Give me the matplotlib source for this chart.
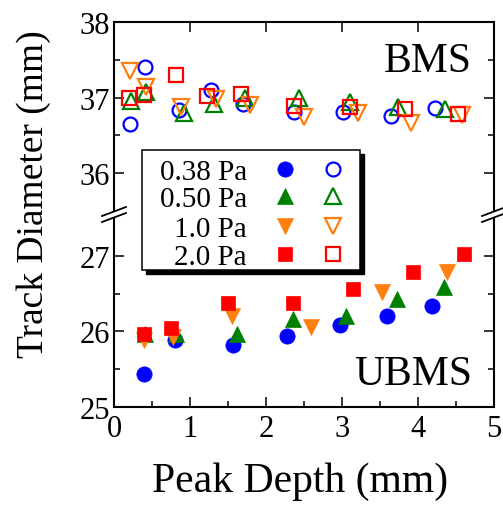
import numpy as np
import matplotlib.pyplot as plt
from matplotlib.lines import Line2D
from matplotlib.patches import Rectangle, Polygon
from matplotlib.ticker import FixedLocator

plt.rcParams['font.family'] = ['Liberation Serif', 'DejaVu Serif']

W, H = 503, 506

labels = ["0.38 Pa", "0.50 Pa", "1.0 Pa", "2.0 Pa"]
colors = ["#0000ff", "#008000", "#ff7f0e", "#ff0000"]
markers = ["o", "^", "v", "s"]
msizes = [11, 12, 12, 10.5]

# balanced magnetron (open symbols)
bms_x = [
    [0.21, 0.41, 0.85, 1.28, 1.70, 2.37, 3.01, 3.65, 4.22],
    [0.22, 0.42, 0.92, 1.32, 1.73, 2.44, 3.11, 3.74, 4.35],
    [0.21, 0.42, 0.88, 1.34, 1.79, 2.50, 3.21, 3.91, 4.58],
    [0.20, 0.39, 0.82, 1.23, 1.67, 2.37, 3.10, 3.83, 4.52],
]
bms_y = [
    [36.65, 37.40, 36.84, 37.10, 36.92, 36.81, 36.81, 36.76, 36.86],
    [36.96, 37.07, 36.79, 36.92, 37.00, 36.99, 36.94, 36.88, 36.85],
    [37.35, 37.14, 36.87, 36.98, 36.90, 36.74, 36.79, 36.67, 36.77],
    [36.99, 37.04, 37.30, 37.02, 37.05, 36.89, 36.88, 36.85, 36.78],
]

# unbalanced magnetron (filled symbols)
ubms_x = [
    [0.40, 0.80, 1.56, 2.28, 2.98, 3.59, 4.18],
    [0.41, 0.82, 1.62, 2.36, 3.05, 3.72, 4.34],
    [0.39, 0.77, 1.55, 2.59, 3.52, 4.38],
    [0.39, 0.75, 1.50, 2.35, 3.14, 3.94, 4.61],
]
ubms_y = [
    [25.43, 25.88, 25.82, 25.94, 26.08, 26.21, 26.33],
    [25.97, 25.97, 25.97, 26.16, 26.21, 26.43, 26.59],
    [25.88, 25.93, 26.21, 26.06, 26.52, 26.78],
    [25.97, 26.05, 26.37, 26.37, 26.56, 26.78, 27.03],
]


def fx(px):
    return px / W


def fy(py):
    return 1 - py / H


fig = plt.figure(figsize=(W / 100, H / 100), dpi=100)
x0, x1 = 114, 494
y_top, y_brk, y_bot = 23, 213, 408
ax_t = fig.add_axes([fx(x0), fy(y_brk), fx(x1) - fx(x0), fy(y_top) - fy(y_brk)])
ax_b = fig.add_axes([fx(x0), fy(y_bot), fx(x1) - fx(x0), fy(y_brk) - fy(y_bot)])

for i in range(4):
    ax_t.plot(bms_x[i], bms_y[i], ls="none", marker=markers[i], ms=msizes[i] - 1,
              mfc="none", mec=colors[i], mew=1.6, clip_on=False)
    ax_b.plot(ubms_x[i], ubms_y[i], ls="none", marker=markers[i], ms=msizes[i],
              mfc=colors[i], mec=colors[i], mew=0.5, clip_on=False)

ax_t.set_ylim(38 - (y_brk - y_top) / 75.6, 38)
ax_b.set_ylim(25, 25 + (y_bot - y_brk) / 75.6)
for ax in (ax_t, ax_b):
    ax.set_xlim(0, 5)
    for s in ax.spines.values():
        s.set_linewidth(1.5)
    ax.tick_params(which="both", direction="in", right=True, width=1.1,
                   labelsize=22, pad=3)
    ax.tick_params(which="major", length=7)
    ax.tick_params(which="minor", length=4)

ax_t.spines["bottom"].set_visible(False)
ax_b.spines["top"].set_visible(False)

ax_t.yaxis.set_major_locator(FixedLocator([36, 37, 38]))
ax_t.yaxis.set_minor_locator(FixedLocator([36.5, 37.5]))
ax_t.xaxis.set_major_locator(FixedLocator([1, 2, 3, 4]))
ax_t.tick_params(axis="x", which="both", bottom=False, top=True, labelbottom=False)
ax_t.xaxis.set_minor_locator(FixedLocator([]))

ax_b.yaxis.set_major_locator(FixedLocator([25, 26, 27]))
ax_b.yaxis.set_minor_locator(FixedLocator([25.5, 26.5]))
ax_b.xaxis.set_major_locator(FixedLocator([0, 1, 2, 3, 4, 5]))
ax_b.xaxis.set_minor_locator(FixedLocator([0.5, 1.5, 2.5, 3.5, 4.5]))
ax_b.tick_params(axis="x", which="both", top=False, pad=5)

ax_t.text(0.942, 0.742, "BMS", transform=ax_t.transAxes, ha="right",
          va="baseline", fontsize=30)
ax_b.text(0.942, 0.118, "UBMS", transform=ax_b.transAxes, ha="right",
          va="baseline", fontsize=30)

fig.text(fx(300), fy(492), "Peak Depth (mm)", ha="center", va="baseline",
         fontsize=30)
fig.text(fx(34), fy(194), "Track Diameter (mm)", ha="center", va="center",
         rotation=90, fontsize=27)

# axis break marks on both sides
for xs in (x0, x1):
    yc, dx, dy, gap = 215.5, 12, 4.5, 3
    poly = Polygon([(fx(xs - dx), fy(yc + dy - gap)), (fx(xs + dx), fy(yc - dy - gap)),
                    (fx(xs + dx), fy(yc - dy + gap)), (fx(xs - dx), fy(yc + dy + gap))],
                   closed=True, transform=fig.transFigure, fc="white", ec="none",
                   zorder=4)
    fig.add_artist(poly)
    for g in (-gap, gap):
        fig.add_artist(Line2D([fx(xs - dx), fx(xs + dx)],
                              [fy(yc + dy + g), fy(yc - dy + g)],
                              transform=fig.transFigure, color="black", lw=1.3,
                              zorder=5))

# legend box with drop shadow
bx0, by0, bx1, by1 = 142, 151, 360, 271
fig.add_artist(Rectangle((fx(bx0 + 4), fy(by1 + 4)), fx(bx1 - bx0), fy(by0) - fy(by1),
                         transform=fig.transFigure, fc="black", ec="black",
                         lw=1.0, zorder=6))
fig.add_artist(Rectangle((fx(bx0), fy(by1)), fx(bx1 - bx0), fy(by0) - fy(by1),
                         transform=fig.transFigure, fc="white", ec="black",
                         lw=1.1, zorder=7))
rows = [170, 197, 227, 255]
for i in range(4):
    fig.text(fx(247), fy(rows[i]), labels[i], ha="right", va="center_baseline",
             fontsize=21, zorder=8)
    fig.add_artist(Line2D([fx(285)], [fy(rows[i])], transform=fig.transFigure,
                          ls="none", marker=markers[i], ms=msizes[i],
                          mfc=colors[i], mec=colors[i], mew=0.5, zorder=8))
    fig.add_artist(Line2D([fx(333)], [fy(rows[i])], transform=fig.transFigure,
                          ls="none", marker=markers[i], ms=msizes[i] - 1,
                          mfc="none", mec=colors[i], mew=1.6, zorder=8))

fig.savefig("out.png", dpi=100)
